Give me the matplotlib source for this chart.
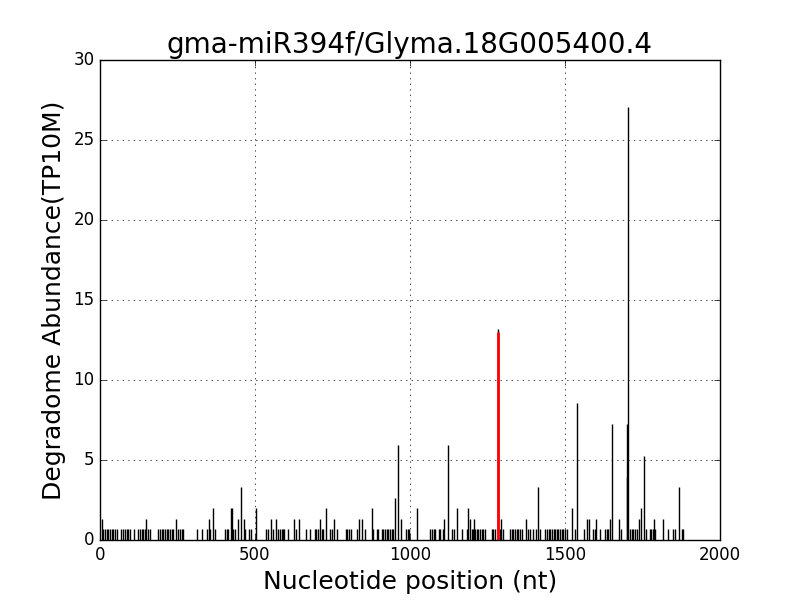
import matplotlib
matplotlib.use("Agg")
import matplotlib.pyplot as plt

# degradome reads, grouped by abundance level (TP10M)
pos_066 = [10, 16, 21, 27, 32, 38, 43, 48, 54, 68, 75, 81, 86, 91, 97, 111, 124, 129, 134,
           140, 145, 156, 161, 186, 193, 199, 204, 210, 215, 220, 226, 231, 237, 251, 259,
           266, 269, 312, 328, 344, 355, 371, 403, 409, 414, 429, 436, 468, 481, 487, 535,
           541, 557, 575, 581, 586, 591, 595, 608, 631, 665, 677, 693, 698, 704, 715, 720,
           742, 747, 766, 793, 798, 804, 809, 828, 855, 882, 893, 898, 909, 914, 919, 925,
           930, 936, 941, 946, 987, 992, 998, 1065, 1070, 1076, 1081, 1092, 1097, 1108,
           1135, 1143, 1169, 1183, 1199, 1204, 1210, 1215, 1220, 1226, 1231, 1236, 1242,
           1263, 1269, 1274, 1290, 1300, 1322, 1328, 1333, 1338, 1344, 1349, 1355, 1360,
           1382, 1387, 1398, 1408, 1420, 1436, 1441, 1447, 1452, 1457, 1463, 1468, 1474,
           1479, 1484, 1490, 1495, 1500, 1506, 1532, 1561, 1591, 1597, 1613, 1629, 1634,
           1640, 1681, 1710, 1715, 1720, 1726, 1731, 1761, 1774, 1779, 1785, 1790, 1833,
           1849, 1855, 1876, 1881]
pos_132 = [5, 148, 246, 350, 445, 464, 551, 568, 626, 642, 710, 755, 837, 846, 970, 1111,
           1195, 1207, 1294, 1374, 1571, 1577, 1599, 1645, 1675, 1738, 1787, 1817]
pos_198 = [366, 423, 426, 503, 729, 878, 1024, 1153, 1188, 1521, 1745]
other_pos = [952, 456, 1414, 1869, 1701, 1755, 962, 1124, 1653, 1699, 1540, 1704]
other_val = [2.64, 3.3, 3.3, 3.3, 3.96, 5.28, 5.94, 5.94, 7.26, 7.26, 8.58, 27.06]

# predicted cleavage site
site_pos = 1283
site_val = 13.2

positions = pos_066 + pos_132 + pos_198 + other_pos + [site_pos]
values = [0.66] * len(pos_066) + [1.32] * len(pos_132) + [1.98] * len(pos_198) + other_val + [site_val]

plt.style.use('classic')
fig = plt.figure(figsize=(8, 6), dpi=100, facecolor='white')
ax = fig.add_subplot(111)

ax.vlines(positions, 0, values, colors='k', linewidth=1)
ax.vlines([site_pos], 0, [site_val - 0.2], colors='r', linewidth=2)

ax.set_xlim(0, 2000)
ax.set_ylim(0, 30)
ax.grid(True)
ax.set_title('gma-miR394f/Glyma.18G005400.4', fontsize=20)
ax.set_xlabel('Nucleotide position (nt)', fontsize=18)
ax.set_ylabel('Degradome Abundance(TP10M)', fontsize=18)

fig.savefig('out.png', dpi=100, facecolor='white')
